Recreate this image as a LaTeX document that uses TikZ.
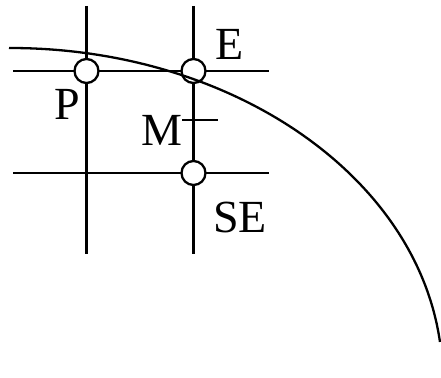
\documentclass[tikz,border=0pt]{standalone}
\usepackage{fontspec}
\setmainfont{Liberation Serif}
\begin{document}
\begin{tikzpicture}[x=1pt,y=-1pt,
  gridline/.style={line width=2.3pt},
  pix/.style={circle,draw,fill=white,line width=2.3pt,minimum size=24pt,inner sep=0pt},
  lbl/.style={inner sep=0pt,anchor=base,font=\fontsize{46}{50}\selectfont},
  curve/.style={line width=2.3pt}]
\useasboundingbox (0,0) rectangle (441,377);
% grid
\coordinate (v1t) at (86.5,6);   \coordinate (v1b) at (86.5,254);
\coordinate (v2t) at (193.5,6);  \coordinate (v2b) at (193.5,254);
\coordinate (h1l) at (13,71);    \coordinate (h1r) at (269,71);
\coordinate (h2l) at (13,173);   \coordinate (h2r) at (269,173);
\coordinate (ml) at (182,120);   \coordinate (mr) at (218,120);
\draw[gridline] (v1t) -- (v1b);
\draw[gridline] (v2t) -- (v2b);
\draw[gridline] (h1l) -- (h1r);
\draw[gridline] (h2l) -- (h2r);
\draw[gridline] (ml) -- (mr);
% pixel points
\node[pix] (P) at (86.5,71) {};
\node[pix] (E) at (193.5,71) {};
\node[pix] (SE) at (193.5,173) {};
% arc (quarter of an ellipse centred at (10,378))
\coordinate (a0) at (9,48);
\draw[curve] (a0) arc[start angle=90.13, end angle=6.27, x radius=432.6pt, y radius=330pt];
% labels
\node[lbl] (lP) at (67,120) {P};
\node[lbl] (lE) at (230,60) {E};
\node[lbl] (lM) at (162,145) {M};
\node[lbl] (lSE) at (240,232) {SE};
\end{tikzpicture}
\end{document}
